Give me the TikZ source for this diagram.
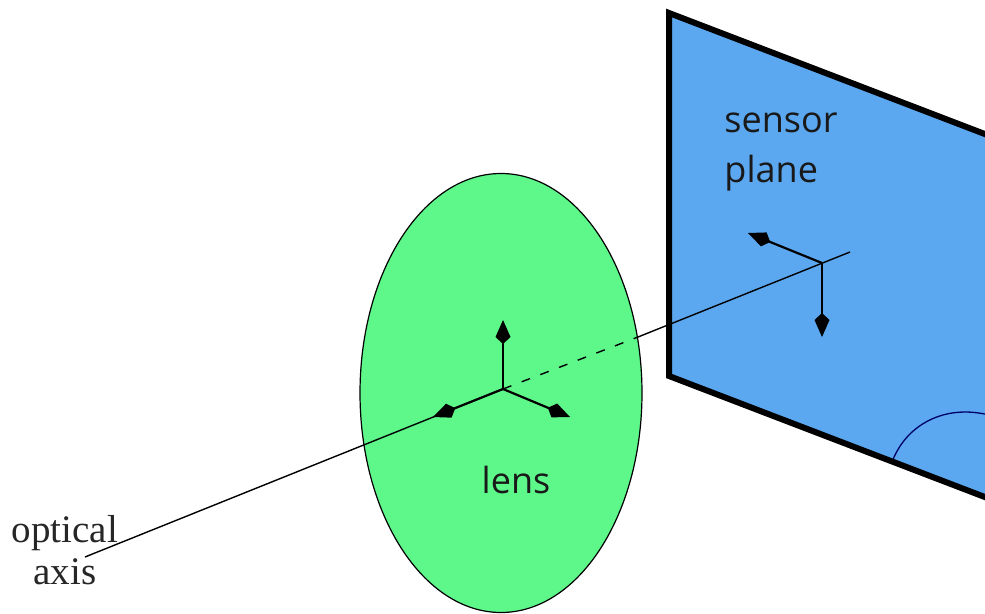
\documentclass[tikz,border=0pt]{standalone}
\usepackage{fontspec}
\setmainfont{Open Sans}
\newfontfamily\capfont{Liberation Serif}
\usetikzlibrary{arrows.meta,shapes.geometric}
\definecolor{lensgreen}{HTML}{5EF78A}
\definecolor{planeblue}{HTML}{5BA8F0}
\tikzset{
  axisarrow/.style={line width=2.2pt,-{Kite[length=24pt,width=15pt,inset=7pt]}},
  axisline/.style={line width=1.4pt},
  sanslabel/.style={inner sep=0pt,align=left,font=\fontsize{36}{50}\selectfont},
  seriflabel/.style={inner sep=0pt,align=center,font=\capfont\fontsize{39}{42}\selectfont}
}
\begin{document}
\begin{tikzpicture}[x=1pt,y=-1pt]
\useasboundingbox (0,0) rectangle (985,613);
\clip (0,0) rectangle (985,613);
% sensor plane
\path[fill=planeblue] (669,13) -- (990,136) -- (990,499) -- (669,376) -- cycle;
\draw[line width=1.3pt,black!60!blue] (892,462) .. controls (905,428) and (935,412) .. (965,412) .. controls (973,412) and (980,413) .. (990,415);
\draw[line width=6pt,line join=miter,black] (990,136) -- (669,13) -- (669,376) -- (990,499);
% lens
\node[name=lens,draw=black,line width=1.2pt,fill=lensgreen,ellipse,minimum width=282pt,minimum height=439pt,inner sep=0pt] at (501,393) {};
% coordinates
\coordinate (axisstart) at (85,557);
\coordinate (lenso) at (503,389);
\coordinate (lensexit) at (638,337);
\coordinate (senso) at (822,263);
\coordinate (axisend) at (850,252);
\coordinate (lensup) at (503,320);
\coordinate (lensleft) at (433,417);
\coordinate (lensright) at (570,417);
\coordinate (sensleft) at (748,233);
\coordinate (sensdown) at (822,337);
% axis
\draw[axisline] (axisstart) -- (lenso);
\draw[axisline,dash pattern=on 9pt off 11pt] (lenso) -- (lensexit);
\draw[axisline] (lensexit) -- (axisend);
\draw[axisarrow] (lenso) -- (lensup);
\draw[axisarrow] (lenso) -- (lensleft);
\draw[axisarrow] (lenso) -- (lensright);
\draw[axisarrow] (senso) -- (sensleft);
\draw[axisarrow] (senso) -- (sensdown);
% labels
\node[sanslabel,anchor=center,text=black!90] (sensorlabel) at (781,152) {sensor\\plane};
\node[sanslabel,text=black!90] (lenslabel) at (516,480) {lens};
\node[seriflabel,text=black!85] (axislabel) at (65,550) {optical\\axis};
\end{tikzpicture}
\end{document}
